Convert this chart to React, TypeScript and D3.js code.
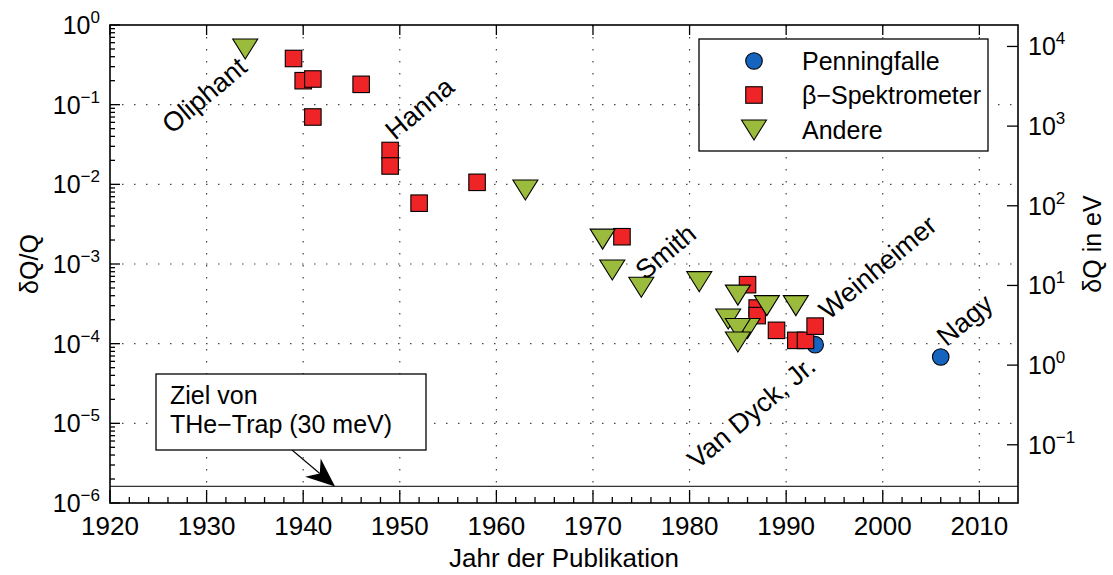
import React from "react";
import * as d3 from "d3";

// Data (year, δQ/Q)
const penningYears = [1993, 2006];
const penningValues = [9.7e-5, 6.8e-5];

const betaYears = [1939, 1940, 1941, 1941, 1946, 1949, 1949, 1952, 1958, 1973, 1986, 1987, 1987, 1989, 1991, 1992, 1993];
const betaValues = [0.38, 0.2, 0.21, 0.07, 0.18, 0.0266, 0.017, 0.0058, 0.0106, 0.0022, 5.5e-4, 2.8e-4, 2.25e-4, 1.47e-4, 1.1e-4, 1.1e-4, 1.66e-4];

const otherYears = [1934, 1963, 1971, 1972, 1975, 1981, 1985, 1988, 1991, 1984, 1986, 1985, 1985];
const otherValues = [0.5, 0.0085, 0.00205, 8.4e-4, 5.1e-4, 6.0e-4, 4.07e-4, 3.0e-4, 3.0e-4, 2.04e-4, 1.55e-4, 1.55e-4, 1.05e-4];

const labelNames = ["Oliphant", "Hanna", "Smith", "Van Dyck, Jr.", "Weinheimer", "Nagy"];
const labelYears = [1926.4, 1949.5, 1975.4, 1980.8, 1994.4, 2006.6];
const labelValues = [0.042, 0.035, 6.1e-4, 2.6e-6, 1.95e-4, 9.0e-5];

const xTicks = [1920, 1930, 1940, 1950, 1960, 1970, 1980, 1990, 2000, 2010];
const yExps = [-6, -5, -4, -3, -2, -1, 0];
const yRightExps = [-1, 0, 1, 2, 3, 4];
const legendNames = ["Penningfalle", "β−Spektrometer", "Andere"];

const Q_EV = 18590; // Q-value in eV
const TARGET_EV = 0.03;

const W = 1113, H = 575;
const L = 110, R = 1018, T = 25, B = 503;

const BLUE = "#1565c0";
const RED = "#ee2427";
const GREEN = "#9bbb3c";
const FONT = "'Liberation Sans', Arial, Helvetica, sans-serif";
const FS = 25;

function Square({ cx, cy, s = 16.5 }: { cx: number; cy: number; s?: number }) {
  return <rect x={cx - s / 2} y={cy - s / 2} width={s} height={s} fill={RED} stroke="#000" strokeWidth={1.1} />;
}
function Tri({ cx, cy }: { cx: number; cy: number }) {
  const w = 25, h = 20;
  const p = `M${cx - w / 2},${cy - h / 2} L${cx + w / 2},${cy - h / 2} L${cx},${cy + h / 2} Z`;
  return <path d={p} fill={GREEN} stroke="#000" strokeWidth={1.1} />;
}
function Circ({ cx, cy }: { cx: number; cy: number }) {
  return <circle cx={cx} cy={cy} r={8.3} fill={BLUE} stroke="#000" strokeWidth={1.1} />;
}

function Pow({ x, y, exp, anchor }: { x: number; y: number; exp: number; anchor: "start" | "end" }) {
  const expStr = exp < 0 ? "−" + Math.abs(exp) : String(exp);
  return (
    <text x={x} y={y} textAnchor={anchor} fontFamily={FONT} fontSize={FS} fill="#000">
      10<tspan dy={-11} fontSize={17}>{expStr}</tspan>
    </text>
  );
}

export default function App() {
  const x = d3.scaleLinear().domain([1920, 2014]).range([L, R]);
  const y = d3.scaleLog().domain([1e-6, 1]).range([B, T]);
  const yR = d3.scaleLog().domain([1e-6 * Q_EV, Q_EV]).range([B, T]);

  const minorX = d3.range(1922, 2014, 2).filter((v) => v % 10 !== 0);
  const minorY: number[] = [];
  for (let e = -6; e < 0; e++) for (let k = 2; k <= 9; k++) minorY.push(k * Math.pow(10, e));

  const lineY = y(TARGET_EV / Q_EV);

  // arrow
  const ax0 = 292, ay0 = 450, ax1 = x(1943.3), ay1 = lineY;
  const dx = ax1 - ax0, dy = ay1 - ay0;
  const len = Math.hypot(dx, dy);
  const ux = dx / len, uy = dy / len;
  const px = -uy, py = ux;
  const hl = 29, hw = 12, notch = 20;
  const headPath = `M${ax1},${ay1} L${ax1 - ux * hl + px * hw},${ay1 - uy * hl + py * hw} L${ax1 - ux * notch},${ay1 - uy * notch} L${ax1 - ux * hl - px * hw},${ay1 - uy * hl - py * hw} Z`;

  const legendRows = [61, 95, 130];

  return (
    <svg width={W} height={H} style={{ display: "block", position: "absolute", left: 0, top: 0 }}>
      <rect x={0} y={0} width={W} height={H} fill="#fff" />
      {/* grid */}
      <g stroke="#444" strokeWidth={1.2} strokeDasharray="1.5,10.5">
        {xTicks.filter((t) => t > 1920).map((t) => (
          <line key={"gx" + t} x1={x(t)} x2={x(t)} y1={T} y2={B} />
        ))}
        {yExps.filter((e) => e > -6 && e < 0).map((e) => (
          <line key={"gy" + e} x1={L} x2={R} y1={y(Math.pow(10, e))} y2={y(Math.pow(10, e))} />
        ))}
      </g>

      {/* target line */}
      <line x1={L} x2={R} y1={lineY} y2={lineY} stroke="#333" strokeWidth={1.3} />

      {/* labels */}
      {labelNames.map((n, i) => {
        const lx = x(labelYears[i]);
        const ly = y(labelValues[i]);
        return (
          <text key={n} x={lx} y={ly} transform={`rotate(-40,${lx},${ly})`} fontFamily={FONT} fontSize={27} fill="#000">
            {n}
          </text>
        );
      })}

      {/* data */}
      {penningYears.map((yr, i) => (
        <Circ key={"p" + i} cx={x(yr)} cy={y(penningValues[i])} />
      ))}
      {betaYears.map((yr, i) => (
        <Square key={"b" + i} cx={x(yr)} cy={y(betaValues[i])} />
      ))}
      {otherYears.map((yr, i) => (
        <Tri key={"o" + i} cx={x(yr)} cy={y(otherValues[i])} />
      ))}

      {/* annotation */}
      <line x1={ax0} y1={ay0} x2={ax1 - ux * notch} y2={ay1 - uy * notch} stroke="#000" strokeWidth={1.1} />
      <path d={headPath} fill="#000" />
      <rect x={156} y={374} width={270} height={76} fill="#fff" stroke="#000" strokeWidth={1.3} />
      <text x={170} y={404} fontFamily={FONT} fontSize={FS} fill="#000">Ziel von</text>
      <text x={170} y={433} fontFamily={FONT} fontSize={FS} fill="#000">THe−Trap (30 meV)</text>

      {/* legend */}
      <rect x={699} y={39} width={289} height={112} fill="#fff" stroke="#000" strokeWidth={1.3} />
      <Circ cx={754} cy={legendRows[0]} />
      <Square cx={754} cy={legendRows[1]} />
      <Tri cx={754} cy={legendRows[2]} />
      {legendNames.map((n, i) => (
        <text key={n} x={802} y={legendRows[i] + 9} fontFamily={FONT} fontSize={FS} fill="#000">{n}</text>
      ))}

      {/* axes box */}
      <rect x={L} y={T} width={R - L} height={B - T} fill="none" stroke="#000" strokeWidth={1.6} />

      {/* ticks */}
      <g stroke="#000" strokeWidth={1.3}>
        {xTicks.map((t) => (
          <line key={"bt" + t} x1={x(t)} x2={x(t)} y1={B} y2={B - 13} />
        ))}
        {minorX.map((t) => (
          <line key={"bm" + t} x1={x(t)} x2={x(t)} y1={B} y2={B - 6} />
        ))}
        {xTicks.map((t) => (
          <line key={"tt" + t} x1={x(t)} x2={x(t)} y1={T} y2={T + 10} />
        ))}
        {yExps.map((e) => (
          <line key={"lt" + e} x1={L} x2={L + 10} y1={y(Math.pow(10, e))} y2={y(Math.pow(10, e))} />
        ))}
        {minorY.map((v, i) => (
          <line key={"lm" + i} x1={L} x2={L + 5} y1={y(v)} y2={y(v)} />
        ))}
        {yRightExps.map((e) => (
          <line key={"rt" + e} x1={R} x2={R - 11} y1={yR(Math.pow(10, e))} y2={yR(Math.pow(10, e))} />
        ))}
      </g>

      {/* tick labels */}
      {xTicks.map((t) => (
        <text key={"xl" + t} x={x(t)} y={535} textAnchor="middle" fontFamily={FONT} fontSize={26} fill="#000">{t}</text>
      ))}
      {yExps.map((e) => (
        <Pow key={"yl" + e} x={100} y={y(Math.pow(10, e)) + 9} exp={e} anchor="end" />
      ))}
      {yRightExps.map((e) => (
        <Pow key={"yr" + e} x={1028} y={yR(Math.pow(10, e)) + 9} exp={e} anchor="start" />
      ))}

      {/* axis titles */}
      <text x={(L + R) / 2} y={567} textAnchor="middle" fontFamily={FONT} fontSize={26} fill="#000">Jahr der Publikation</text>
      <text transform={`translate(38,${(T + B) / 2}) rotate(-90)`} textAnchor="middle" fontFamily={FONT} fontSize={FS} fill="#000">δQ/Q</text>
      <text transform={`translate(1101,244) rotate(-90)`} textAnchor="middle" fontFamily={FONT} fontSize={FS} fill="#000">δQ in eV</text>
    </svg>
  );
}
